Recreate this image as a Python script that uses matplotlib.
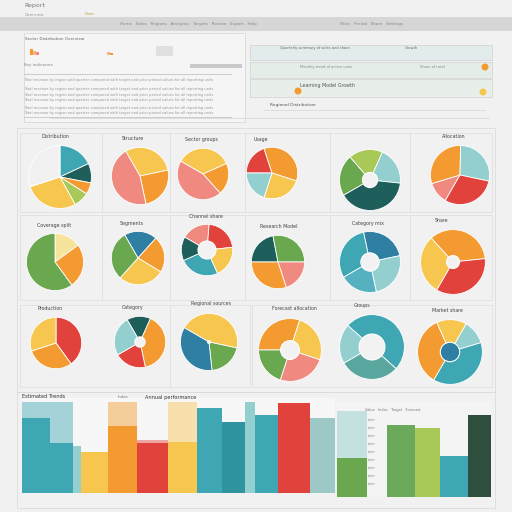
import matplotlib
matplotlib.use("Agg")
import matplotlib.pyplot as plt
from matplotlib.patches import Rectangle

# --- colours ---
TEAL = '#3ea7b3'
DTEAL = '#1f5f5b'
ORANGE = '#f39a30'
YELLOW = '#f7c64f'
RED = '#e2423c'
PINK = '#f08a80'
GREEN = '#6aa84f'
LGREEN = '#a8c858'
LTEAL = '#93cfcf'
BLUE = '#2f7fa2'
PALE = '#f6e49a'

# --- pie data (value shares) ---
pie_r1 = [
    ([18, 10, 6, 8, 28, 30], [TEAL, DTEAL, ORANGE, LGREEN, YELLOW, '#ffffff00']),
    ([30, 25, 45], [YELLOW, ORANGE, PINK]),
    ([35, 20, 45], [YELLOW, ORANGE, PINK]),
    ([20, 35, 25, 20], [RED, ORANGE, YELLOW, LTEAL]),
    ([22, 18, 20, 40], [GREEN, LGREEN, LTEAL, DTEAL]),
    ([12, 30, 28, 30], [PINK, ORANGE, LTEAL, RED]),
]
pie_r2 = [
    ([15, 25, 60], [PALE, ORANGE, GREEN]),
    ([20, 22, 28, 30], [BLUE, ORANGE, YELLOW, GREEN]),
    ([18, 22, 20, 25, 15], [PINK, RED, YELLOW, TEAL, DTEAL]),
    ([22, 28, 20, 30], [DTEAL, GREEN, PINK, ORANGE]),
    ([30, 25, 25, 20], [TEAL, BLUE, LTEAL, '#55b0c0']),
    ([30, 35, 35], [YELLOW, ORANGE, RED]),
]
pie_r3 = [
    ([40, 30, 30], [RED, ORANGE, YELLOW]),
    ([15, 40, 20, 25], [DTEAL, ORANGE, RED, LTEAL]),
    ([45, 20, 35], [YELLOW, GREEN, BLUE]),
    ([30, 25, 25, 20], [ORANGE, YELLOW, PINK, GREEN]),
    ([20, 50, 30], [LTEAL, TEAL, '#5aa7a0']),
    ([35, 15, 12, 38], [ORANGE, YELLOW, LTEAL, TEAL]),
]

# --- bar data (percent of axis height) ---
bars_left_low = [79, 53, 50, 43, 71, 53, 54, 90, 75, 96, 82, 95, 79]
bars_left_high = [96, 96, 50, 43, 96, 56, 96, 90, 75, 96, 82, 95, 79]
bars_left_col = [TEAL, TEAL, LTEAL, YELLOW, ORANGE, RED, YELLOW, TEAL, '#2f93a0', LTEAL, TEAL, RED, '#9cc9c6']
bars_right = [41, 0, 76, 73, 43, 86]
bars_right_col = [GREEN, '#ffffff', '#6aaa5a', LGREEN, TEAL, '#2f4f3e']

W = 512
fig = plt.figure(figsize=(5.12, 5.12), dpi=100)
fig.patch.set_facecolor('#f1f1f1')


def fx(x):
    return x / W


def fy(y):
    return 1 - y / W


def frame(x0, y0, x1, y1, fc='none', ec='#d8d8d8', lw=0.6):
    fig.patches.append(Rectangle((fx(x0), fy(y1)), fx(x1 - x0), (y1 - y0) / W,
                                 transform=fig.transFigure, fc=fc, ec=ec, lw=lw))


def label(x, y, s, size=3.5, color='#555555', **kw):
    fig.text(fx(x), fy(y), s, fontsize=size, color=color, va='center', **kw)


# header
frame(0, 17, 512, 31, fc='#d6d6d6', ec='none')
label(24, 6, 'Report', size=4.5, color='#777777')
label(25, 15, 'Overview', size=3, color='#999999')
label(85, 14, 'Data', size=3, color='#bba34a')
label(120, 24, 'Home   Sales   Regions   Analytics   Targets   Review   Export   Help', size=3, color='#888888')
label(340, 24, 'Filter   Period   Share   Settings', size=3, color='#888888')

# top left panel
frame(24, 33, 245, 122, fc='#f5f5f5')
label(25, 39, 'Sector Distribution Overview', size=3, color='#666666')
for xb, h, c in [(30, 6, ORANGE), (33, 4, '#f4b38a'), (36, 3, PINK), (107, 3, '#f4b38a'), (110, 2, ORANGE)]:
    frame(xb, 55 - h, xb + 3, 55, fc=c, ec='none')
frame(156, 46, 173, 56, fc='#e0e0e0', ec='none')
frame(190, 64, 242, 68, fc='#c9c9c9', ec='none')
label(24, 65, 'Key indicators', size=3, color='#888888')
for i, yy in enumerate([80, 89, 95, 100, 108, 113]):
    label(24, yy, 'Total revenue by region and quarter compared with target and prior period values '
          'for all reporting units', size=2.6, color='#999999')
frame(24, 74, 232, 75, fc='#cccccc', ec='none')
frame(24, 117, 232, 118, fc='#cccccc', ec='none')

# top right panel
frame(250, 45, 492, 60, fc='#e3ecec', ec='#d6d6d6')
frame(250, 62, 492, 78, fc='#e5eee6', ec='#d6d6d6')
frame(250, 79, 492, 97, fc='#e8efea', ec='#d6d6d6')
label(280, 48, 'Quarterly summary of sales and share', size=2.6, color='#666666')
label(405, 48, 'Growth', size=2.6, color='#666666')
label(300, 67, 'Monthly trend of active units', size=2.6, color='#888888')
label(420, 67, 'Share of total', size=2.6, color='#888888')
label(300, 85, 'Learning Model Growth', size=3.4, color='#555555')
label(270, 105, 'Regional Distribution', size=3.2, color='#555555')
for (cx, cy, c) in [(485, 67, ORANGE), (483, 92, YELLOW), (298, 91, ORANGE)]:
    fig.patches.append(plt.Circle((fx(cx), fy(cy)), 3.5 / W, transform=fig.transFigure, fc=c, ec='none'))
frame(264, 110, 486, 111, fc='#dddddd', ec='none')
frame(50, 118, 490, 119, fc='#dddddd', ec='none')

# pie panel frames
frame(17, 128, 495, 392, fc='none', ec='#dcdcdc')
for x0, x1 in [(20, 102), (102, 170), (170, 245), (245, 330), (330, 410), (410, 492)]:
    frame(x0, 133, x1, 212, ec='#e0e0e0')
    frame(x0, 215, x1, 300, ec='#e0e0e0')
frame(20, 305, 170, 387, ec='#e0e0e0')
frame(170, 305, 250, 387, ec='#e0e0e0')
frame(252, 305, 492, 387, ec='#e0e0e0')

row1_pos = [(60, 177, 33), (140, 176, 30), (203, 174, 27), (272, 173, 27), (370, 180, 32), (460, 175, 31)]
row2_pos = [(55, 262, 30), (138, 258, 28), (207, 250, 27), (278, 262, 28), (370, 262, 32), (453, 262, 34)]
row3_pos = [(56, 343, 27), (140, 342, 27), (209, 342, 30), (290, 350, 33), (372, 347, 34), (450, 352, 34)]
row1_titles = ['Distribution', 'Structure', 'Sector groups', 'Usage', '', 'Allocation']
row2_titles = ['Coverage split', 'Segments', 'Channel share', 'Research Model', 'Category mix', 'Share']
row3_titles = ['Production', 'Category', 'Regional sources', 'Forecast allocation', 'Groups', 'Market share']
holes = [[0, 0, 0, 0, 0.25, 0], [0, 0, 0.35, 0, 0.3, 0.2], [0, 0.2, 0.05, 0.3, 0.4, 0.3]]

for r, (pies, pos, titles) in enumerate([(pie_r1, row1_pos, row1_titles),
                                         (pie_r2, row2_pos, row2_titles),
                                         (pie_r3, row3_pos, row3_titles)]):
    for k, ((vals, cols), (cx, cy, rad)) in enumerate(zip(pies, pos)):
        ax = fig.add_axes([fx(cx - rad), fy(cy + rad), 2 * rad / W, 2 * rad / W])
        ax.pie(vals, colors=cols, startangle=90 + 30 * k, counterclock=False,
               wedgeprops=dict(edgecolor='white', linewidth=0.6))
        hole = holes[r][k]
        if hole:
            ax.add_patch(plt.Circle((0, 0), hole, fc='#f2f2f2' if r != 2 or k != 5 else BLUE,
                                    ec='white', lw=0.8))
        ax.set_xlim(-1.05, 1.05)
        ax.set_ylim(-1.05, 1.05)
        ax.set_aspect('equal')
        ax.axis('off')
        ty = cy - rad - 7 if r < 2 else cy - rad - 8
        if titles[k]:
            label(cx - 18, ty, titles[k], size=3.4, color='#444444')

# bottom left bar chart
label(22, 397, 'Estimated Trends', size=3.6, color='#333333')
label(145, 397, 'Annual performance', size=3.6, color='#333333')
label(118, 397, 'Index', size=2.8, color='#777777')
ax = fig.add_axes([fx(22), fy(493), fx(335 - 22), 95 / W])
edges = [22, 50, 73, 81, 108, 137, 168, 197, 222, 245, 255, 278, 310, 335]
lefts = edges[:-1]
widths = [b - a for a, b in zip(edges[:-1], edges[1:])]
ax.bar(lefts, bars_left_high, width=widths, align='edge', color=bars_left_col, alpha=0.45, lw=0)
ax.bar(lefts, bars_left_low, width=widths, align='edge', color=bars_left_col, lw=0)
ax.set_xlim(22, 335)
ax.set_ylim(0, 100)
ax.set_facecolor('#f7f7f7')
ax.grid(True, color='#e3e3e3', lw=0.5)
ax.set_axisbelow(True)
ax.set_xticks([])
ax.set_yticks([])
for s in ax.spines.values():
    s.set_visible(False)

# bottom right bar chart
ax2 = fig.add_axes([fx(337), fy(497), fx(491 - 337), 95 / W])
r_edges = [337, 367, 387, 415, 440, 468, 491]
r_lefts = r_edges[:-1]
r_widths = [b - a for a, b in zip(r_edges[:-1], r_edges[1:])]
ax2.bar(r_lefts[:1], [91], width=r_widths[:1], align='edge', color=LTEAL, alpha=0.5, lw=0)
ax2.bar(r_lefts, bars_right, width=r_widths, align='edge', color=bars_right_col, lw=0)
ax2.set_xlim(337, 491)
ax2.set_ylim(0, 100)
ax2.set_facecolor('#f4f4f4')
ax2.set_xticks([])
ax2.set_yticks([])
for s in ax2.spines.values():
    s.set_visible(False)
label(365, 410, 'Value   Index   Target   Forecast', size=2.5, color='#777777')
for yy in range(420, 490, 8):
    label(368, yy, 'item', size=2.4, color='#888888')

frame(17, 392, 495, 508, fc='none', ec='#dcdcdc')

fig.savefig('out.png', dpi=100, facecolor=fig.get_facecolor())
